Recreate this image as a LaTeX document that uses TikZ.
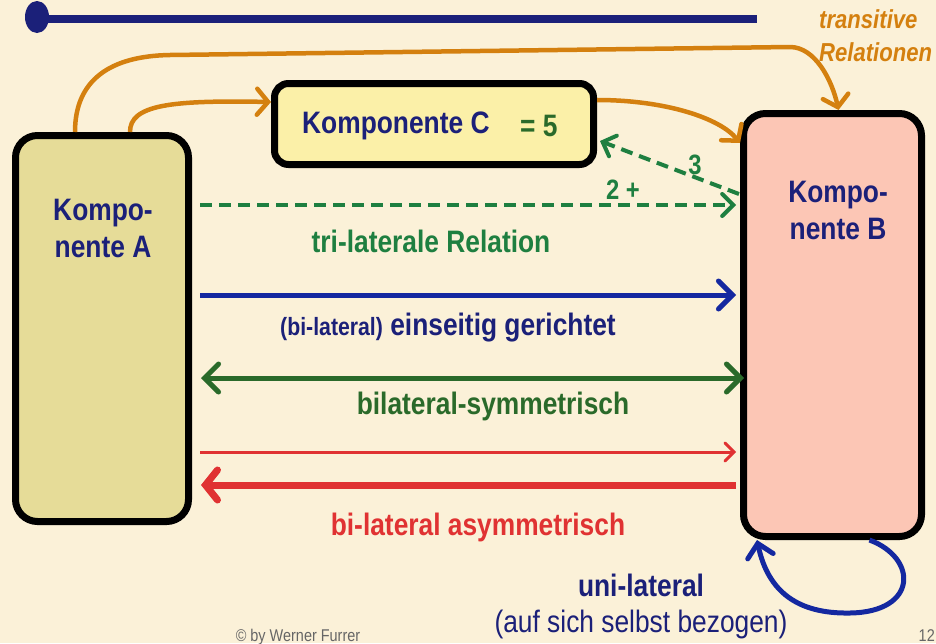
\documentclass[tikz,border=0pt]{standalone}
\usepackage{fontspec}
\setmainfont[FakeStretch=0.85]{Liberation Sans}
\usetikzlibrary{arrows.meta,calc}
\definecolor{bgc}{HTML}{FBF1D8}
\definecolor{navy}{HTML}{1B2079}
\definecolor{barrow}{HTML}{1428A0}
\definecolor{dgreen}{HTML}{2A6A2A}
\definecolor{mgreen}{HTML}{1E7F40}
\definecolor{redc}{HTML}{E03232}
\definecolor{orng}{HTML}{D4800F}
\definecolor{fillA}{HTML}{E6DC98}
\definecolor{fillB}{HTML}{FCC6B5}
\definecolor{fillC}{HTML}{FBF0A8}
\tikzset{
  comp/.style={draw=black, line width=7pt, rounded corners=22pt, inner sep=0pt},
  lbl/.style={font=\fontsize{31}{37}\selectfont\bfseries, align=center, inner sep=0pt},
  barb/.style={-{Straight Barb[length=14pt,width=28pt,line cap=round]}},
  barbs/.style={{Straight Barb[length=14pt,width=28pt,line cap=round]}-{Straight Barb[length=14pt,width=28pt,line cap=round]}},
  orarrow/.style={draw=orng, line width=4.5pt, -{Straight Barb[length=11pt,width=26pt,line cap=round]}},
  gdash/.style={draw=mgreen, line width=4pt, dash pattern=on 12pt off 7pt, -{Straight Barb[length=11pt,width=22pt,line cap=round]}},
}
\begin{document}
\begin{tikzpicture}[x=1pt,y=-1pt]
\fill[bgc] (0,0) rectangle (936,643);
\useasboundingbox (0,0) rectangle (936,643);

% top decorative line
\fill[navy] (37,17) ellipse [x radius=12, y radius=16];
\draw[navy, line width=8pt] (37,19) -- (757,19);

% components
\node[comp, fill=fillA, minimum width=173pt, minimum height=386pt] (A) at (102,328.5) {};
\node[comp, fill=fillB, minimum width=178pt, minimum height=423pt] (B) at (832.5,325) {};
\node[comp, fill=fillC, rounded corners=14pt, minimum width=319pt, minimum height=81pt] (C) at (434,124) {};

\node[lbl, text=navy] (Atxt) at (103,228) {Kompo-\\nente A};
\node[lbl, text=navy] (Btxt) at (838,210) {Kompo-\\nente B};
\node[lbl, text=navy, anchor=west] (Ctxt) at (302,126) {Komponente C};
\node[lbl, text=dgreen, anchor=west] (Cval) at (520,126) {= 5};

% transitive label
\node[font=\fontsize{26}{33}\selectfont\bfseries\itshape, text=orng, align=left, anchor=north west, inner sep=0pt] (trans) at (819,9) {transitive\\Relationen};

% orange transitive arrows
\coordinate (a1) at ([xshift=-27pt]A.north);
\coordinate (a2) at ([xshift=28pt]A.north);
\coordinate (bt) at ([xshift=6pt]B.north);
\coordinate (cw) at ([yshift=22pt]C.west);
\coordinate (ce) at ([yshift=24pt]C.east);
\coordinate (bw1) at ([yshift=182pt]B.west);
\draw[orarrow] (a1) .. controls (75,80) and (110,56) .. (170,55) -- (790,47) .. controls (815,47) and (832,80) .. (bt);
\draw[orarrow] (a2) .. controls (130,105) and (170,100) .. (cw);
\draw[orarrow] (ce) .. controls (665,100) and (720,118) .. (bw1);

% green dashed tri-lateral
\coordinate (g1s) at (200,205);
\coordinate (g1e) at (736,205);
\coordinate (g2s) at (739,194);
\coordinate (g2e) at (600,141);
\draw[gdash] (g1s) -- (g1e);
\draw[gdash] (g2s) -- (g2e);
\node[lbl, text=mgreen, font=\fontsize{28}{30}\selectfont\bfseries] (two) at (623,190) {2 +};
\node[lbl, text=mgreen, font=\fontsize{28}{30}\selectfont\bfseries] (three) at (695,165) {3};
\node[lbl, text=mgreen] (tri) at (431,241) {tri-laterale Relation};

% blue one-sided
\coordinate (b1s) at (200,295);
\coordinate (b1e) at (736,295);
\draw[barrow, line width=5pt, barb] (b1s) -- (b1e);
\node[lbl, text=navy, anchor=base] (eins) at (448,335) {{\fontsize{25}{28}\selectfont (bi-lateral)} einseitig gerichtet};

% green symmetric
\coordinate (gs) at (201,378);
\coordinate (ge) at (744,378);
\draw[dgreen, line width=5pt, barbs] (gs) -- (ge);
\node[lbl, text=dgreen] (sym) at (493,406) {bilateral-symmetrisch};

% red asymmetric
\coordinate (r1s) at (200,452);
\coordinate (r1e) at (736,452);
\coordinate (r2s) at (736,485);
\coordinate (r2e) at (201,485);
\draw[redc, line width=3pt, -{Straight Barb[length=9pt,width=18pt,line cap=round]}] (r1s) -- (r1e);
\draw[redc, line width=7pt, -{Straight Barb[length=12pt,width=30pt,line cap=round]}] (r2s) -- (r2e);
\node[lbl, text=redc] (asym) at (478,527) {bi-lateral asymmetrisch};

% blue self loop
\coordinate (ls) at ([xshift=37pt]B.south);
\draw[barrow, line width=5pt, -{Straight Barb[length=13pt,width=26pt,line cap=round]}] (ls) .. controls (918,558) and (918,612) .. (850,613) .. controls (798,614) and (768,592) .. (757,540);
\node[lbl, text=navy] (uni) at (641,585) {uni-lateral};
\node[lbl, text=navy, font=\fontsize{31}{37}\selectfont] (auf) at (641,624) {(auf sich selbst bezogen)};

% footer
\node[text=gray!80!black, font=\fontsize{17}{20}\selectfont, anchor=base, inner sep=0pt] (copy) at (298,641) {© by Werner Furrer};
\node[text=gray!80!black, font=\fontsize{17}{20}\selectfont, anchor=base east, inner sep=0pt] (pg) at (935,641) {12};
\end{tikzpicture}
\end{document}
